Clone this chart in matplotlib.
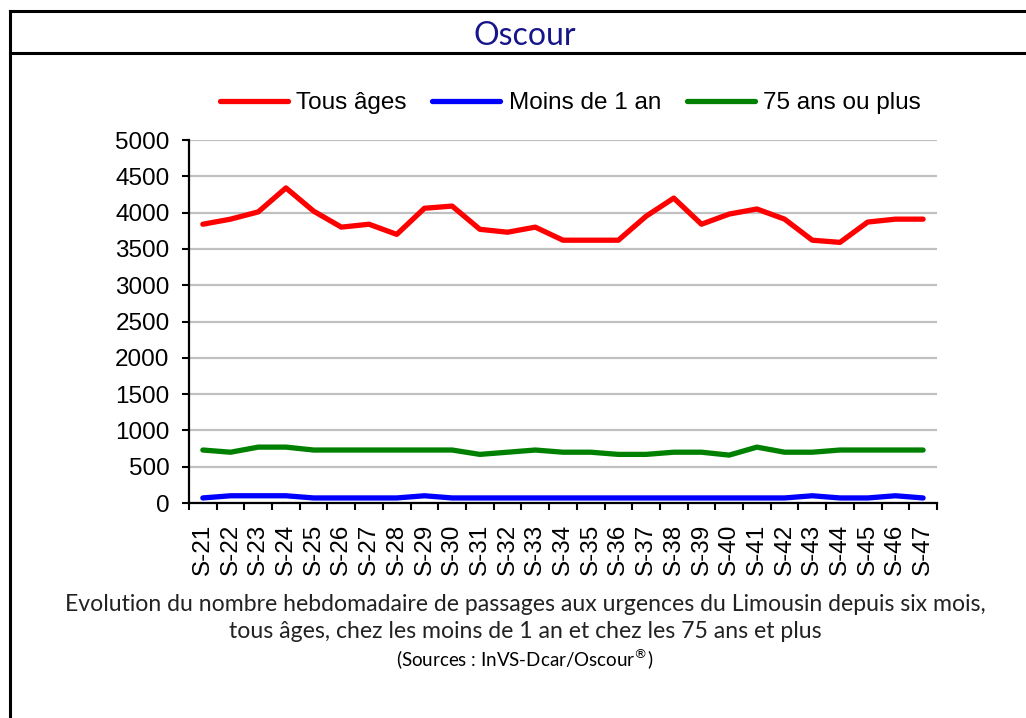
import numpy as np
import matplotlib.pyplot as plt
from matplotlib.lines import Line2D

# Weekly counts
weeks = ["S-%d" % w for w in range(21, 48)]
tous_ages = [3840, 3910, 4010, 4340, 4020, 3800, 3840, 3700, 4060, 4090,
             3770, 3730, 3800, 3620, 3620, 3620, 3950, 4200, 3840, 3980,
             4050, 3910, 3620, 3590, 3870, 3910, 3910]
moins_1an = [70, 100, 100, 100, 70, 70, 70, 70, 100, 70,
             70, 70, 70, 70, 70, 70, 70, 70, 70, 70,
             70, 70, 100, 70, 70, 100, 70]
plus_75 = [730, 700, 770, 770, 730, 730, 730, 730, 730, 730,
           670, 700, 730, 700, 700, 670, 670, 700, 700, 660,
           770, 700, 700, 730, 730, 730, 730]
y_ticks = list(range(0, 5001, 500))

plt.rcParams['font.family'] = ['Liberation Sans', 'DejaVu Sans']

fig = plt.figure(figsize=(10.26, 7.18), dpi=100)
ax = fig.add_axes([0.1842, 0.2994, 0.7290, 0.5056])

x = np.arange(len(weeks))
ax.plot(x, tous_ages, color='#ff0000', lw=3.8, label='Tous âges', solid_capstyle='round')
ax.plot(x, moins_1an, color='#0000ff', lw=3.8, label='Moins de 1 an', solid_capstyle='round')
ax.plot(x, plus_75, color='#008000', lw=3.8, label='75 ans ou plus', solid_capstyle='round')

ax.set_xlim(-0.5, len(weeks) - 0.5)
ax.set_ylim(0, 5000)
ax.set_yticks(y_ticks)
ax.set_yticklabels([str(v) for v in y_ticks], fontsize=17.5)
ax.set_xticks(x)
ax.set_xticklabels(weeks, rotation=90, fontsize=17.5)
ax.set_xticks(np.arange(-0.5, len(weeks), 1), minor=True)
ax.tick_params(axis='x', which='major', length=0, pad=15)
ax.tick_params(axis='x', which='minor', length=5, width=1.5, direction='out')
ax.tick_params(axis='y', length=5, width=1.5, direction='out', pad=9)

ax.grid(axis='y', color='#c0c0c0', lw=1.6)
ax.set_axisbelow(True)
for s in ['top', 'right']:
    ax.spines[s].set_visible(False)
for s in ['left', 'bottom']:
    ax.spines[s].set_linewidth(1.6)

fig.legend(loc='center', bbox_to_anchor=(0.556, 0.856), ncol=3, frameon=False,
           fontsize=17.5, handlelength=2.8, handletextpad=0.35, columnspacing=1.05)

# frame around the panel
fig.add_artist(Line2D([0.0097, 1], [0.9847, 0.9847], color='black', lw=2.2))
fig.add_artist(Line2D([0.0097, 1], [0.9255, 0.9255], color='black', lw=2.2))
fig.add_artist(Line2D([0.0097, 0.0097], [0, 0.9847], color='black', lw=2.2))

fig.text(0.512, 0.950, 'Oscour', ha='center', va='center', fontsize=23,
         color='#16168a', family='Lato')

fig.text(0.512, 0.139, "Evolution du nombre hebdomadaire de passages aux urgences du Limousin depuis six mois,\n"
         "tous âges, chez les moins de 1 an et chez les 75 ans et plus",
         ha='center', va='center', fontsize=16.6, family='Lato', color='#222222',
         linespacing=1.35)
fig.text(0.512, 0.083, "(Sources : InVS-Dcar/Oscour$^{®}$)", ha='center', va='center',
         fontsize=13.5, family='Lato')

fig.savefig('out.png', dpi=100)
